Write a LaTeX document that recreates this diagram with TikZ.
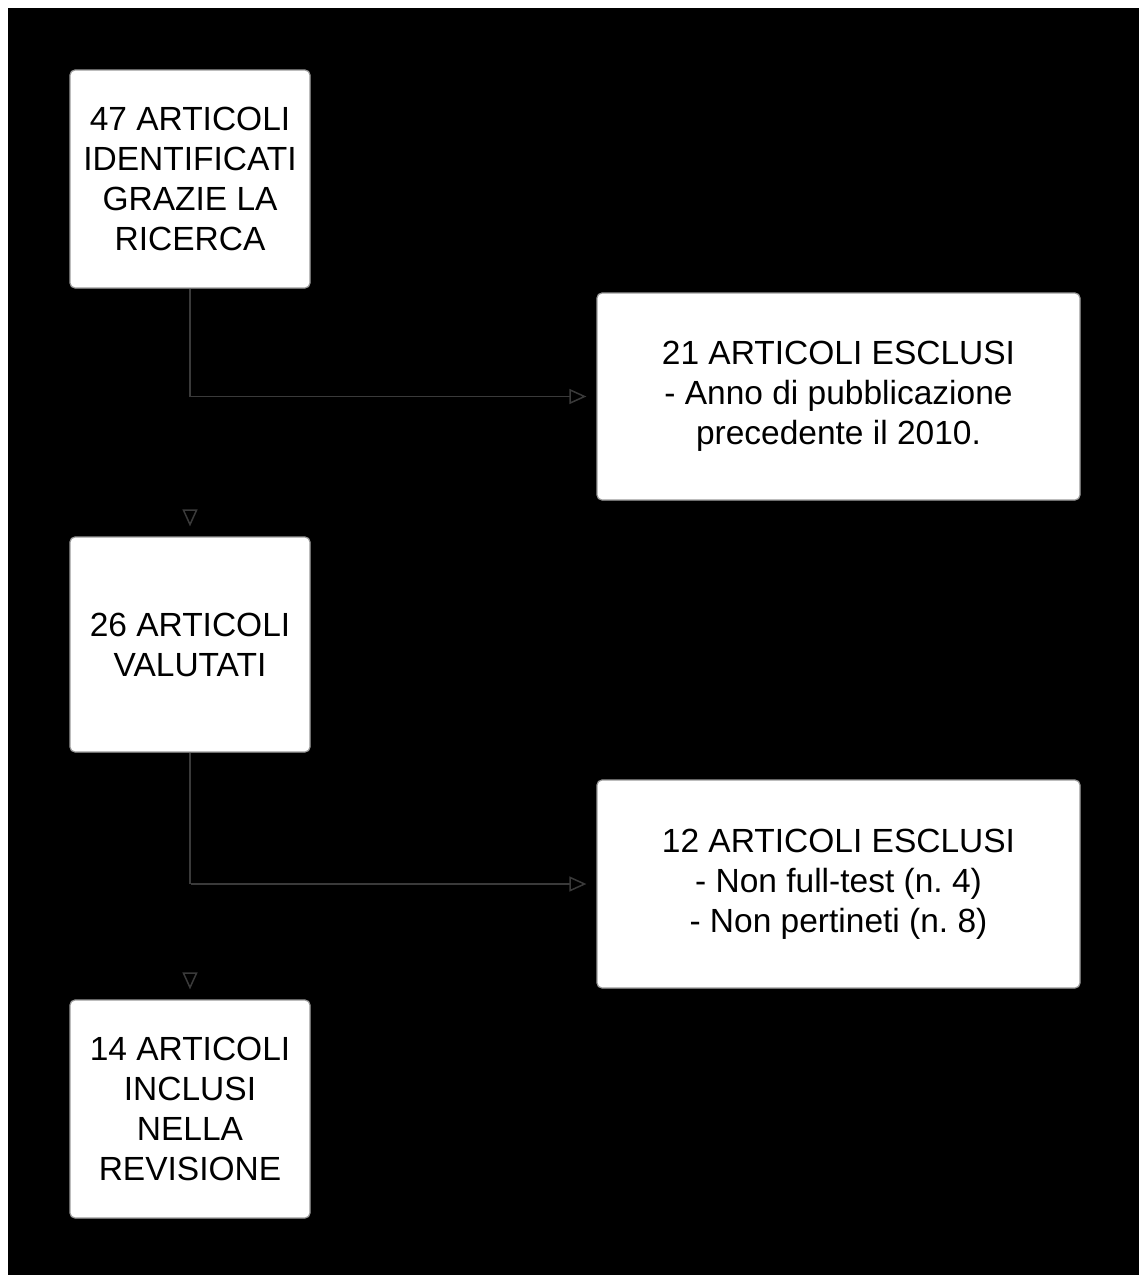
\documentclass[tikz,border=0pt]{standalone}
\usepackage{fontspec}
\setmainfont{Liberation Sans}
\usetikzlibrary{arrows.meta}
\frenchspacing

\definecolor{linegray}{HTML}{3A3A3A}
\definecolor{boxedge}{HTML}{9A9A9A}

\tikzset{
  box/.style={draw=boxedge,line width=1.2pt,fill=white,rounded corners=5pt,
    align=center,inner sep=0pt,font=\fontsize{33.5}{40}\selectfont},
  smallbox/.style={box,minimum width=240pt},
  widebox/.style={box,minimum width=483pt},
  conn/.style={draw=linegray,line width=1.8pt,
    -{Triangle[open,length=17pt,width=15pt,line width=1.5pt,color=linegray]},shorten >=10pt},
}

\begin{document}
\begin{tikzpicture}[x=1pt,y=-1pt]
  \useasboundingbox (0,0) rectangle (1139,1275);
  \fill[white] (0,0) rectangle (1139,1275);
  \fill[black] (8,8) rectangle (1139,1275);

  \node[smallbox,minimum height=218pt] (found) at (190,179) {47 ARTICOLI\\IDENTIFICATI\\GRAZIE LA\\RICERCA};
  \node[widebox,minimum height=207pt] (excl1) at (838.5,396.5) {21 ARTICOLI ESCLUSI\\- Anno di pubblicazione\\precedente il 2010.};
  \node[smallbox,minimum height=215pt] (valued) at (190,644.5) {26 ARTICOLI\\VALUTATI};
  \node[widebox,minimum height=208pt] (excl2) at (838.5,884) {12 ARTICOLI ESCLUSI\\- Non full-test (n. 4)\\- Non pertineti (n. 8)};
  \node[smallbox,minimum height=218pt] (incl) at (190,1109) {14 ARTICOLI\\INCLUSI\\NELLA\\REVISIONE};

  \coordinate (split1) at (found.south |- excl1.west);
  \coordinate (split2) at (valued.south |- excl2.west);

  % first step
  \draw[draw=linegray,line width=1.8pt] (found.south) -- (split1);
  \draw[conn] (split1) -- (excl1.west);
  \draw[conn,draw=black] (split1) -- (valued.north);

  % second step
  \draw[draw=linegray,line width=1.8pt] (valued.south) -- (split2);
  \draw[conn] (split2) -- (excl2.west);
  \draw[conn,draw=black] (split2) -- (incl.north);
\end{tikzpicture}
\end{document}
